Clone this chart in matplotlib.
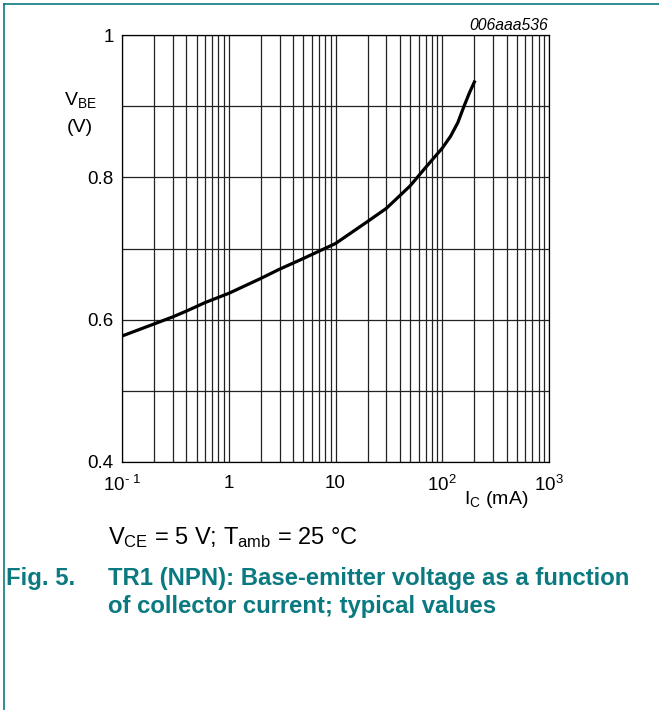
import numpy as np
import matplotlib.pyplot as plt
from matplotlib.ticker import FixedLocator, NullFormatter

plt.rcParams['font.family'] = ['Liberation Sans', 'DejaVu Sans']
plt.rcParams['mathtext.fontset'] = 'custom'
plt.rcParams['mathtext.rm'] = 'Liberation Sans'
plt.rcParams['mathtext.it'] = 'Liberation Sans:italic'

TEAL = '#0a7a80'

# collector current (mA) vs base-emitter voltage (V)
ic = [0.1, 0.2, 0.3, 0.4, 0.6, 1, 2, 3, 5, 10, 20, 30, 50, 70, 100,
      120, 140, 160, 180, 200]
vbe = [0.577, 0.594, 0.604, 0.612, 0.624, 0.637, 0.658, 0.671, 0.686, 0.707,
       0.738, 0.7565, 0.788, 0.814, 0.841, 0.858, 0.877, 0.900, 0.919, 0.934]

xticks = [0.1, 1, 10, 100, 1000]
xlabels = ['10$^{\\text{- 1}}$', '1', '10', '10$^{2}$', '10$^{3}$']
yticks = [0.4, 0.6, 0.8, 1.0]
ylabels = ['0.4', '0.6', '0.8', '1']
ygrid = [0.5, 0.7, 0.9]

W, H = 659, 710
fig = plt.figure(figsize=(W / 100, H / 100), dpi=100, facecolor='white')
ax = fig.add_axes((122 / W, 1 - 462 / H, 427 / W, 427 / H))

ax.set_xscale('log')
ax.set_xlim(0.1, 1000)
ax.set_ylim(0.4, 1.0)

minor = [m * 10.0 ** e for e in range(-1, 3) for m in range(2, 10)]
ax.xaxis.set_major_locator(FixedLocator(xticks))
ax.xaxis.set_minor_locator(FixedLocator(minor))
ax.xaxis.set_minor_formatter(NullFormatter())
ax.set_xticks(xticks, xlabels)
ax.set_yticks(yticks, ylabels)
ax.yaxis.set_minor_locator(FixedLocator(ygrid))

ax.grid(True, which='both', color='#222222', lw=0.9)
ax.tick_params(which='both', length=0, labelsize=13.5, pad=6)
ax.tick_params(axis='x', pad=9)
for s in ax.spines.values():
    s.set_linewidth(0.9)

ax.plot(ic, vbe, color='black', lw=2.3, solid_joinstyle='round')

# labels
fig.text(80 / W, 1 - 100 / H, r'V$_{\mathrm{BE}}$', fontsize=14, ha='center', va='center')
fig.text(80 / W, 1 - 127 / H, '(V)', fontsize=14, ha='center', va='center')
fig.text(496 / W, 1 - 500 / H, r'I$_{\mathrm{C}}$ (mA)', fontsize=14, ha='center', va='center')
fig.text(548 / W, 1 - 25 / H, '006aaa536', fontsize=11.3, style='italic', ha='right', va='center')

fig.text(108 / W, 1 - 538 / H, r'V$_{\mathrm{CE}}$ = 5 V; T$_{\mathrm{amb}}$ = 25 °C',
         fontsize=17, ha='left', va='center')
fig.text(6 / W, 1 - 579 / H, 'Fig. 5.', fontsize=17.2, weight='bold', color=TEAL,
         ha='left', va='center')
fig.text(108 / W, 1 - 579 / H, 'TR1 (NPN): Base-emitter voltage as a function',
         fontsize=17.2, weight='bold', color=TEAL, ha='left', va='center')
fig.text(108 / W, 1 - 607 / H, 'of collector current; typical values',
         fontsize=17.2, weight='bold', color=TEAL, ha='left', va='center')

# frame lines
fig.add_artist(plt.Line2D([4 / W, 1], [1 - 4 / H, 1 - 4 / H], color=TEAL, lw=1.2))
fig.add_artist(plt.Line2D([4 / W, 4 / W], [0, 1 - 4 / H], color=TEAL, lw=1.2))

fig.savefig('out.png', dpi=100, facecolor='white')
